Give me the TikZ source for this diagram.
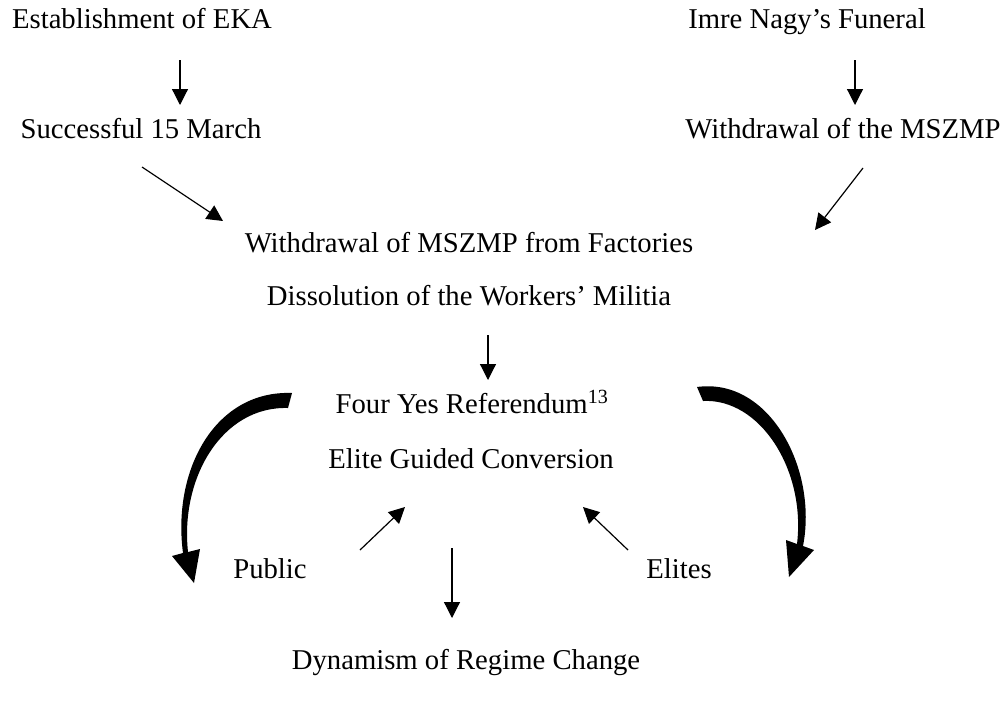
\documentclass[tikz,border=0pt]{standalone}
\usepackage{fontspec}
\setmainfont{Liberation Serif}
\usetikzlibrary{arrows.meta}
\begin{document}
\begin{tikzpicture}[x=1pt,y=-1pt,
  lbl/.style={inner sep=0pt, anchor=base, font=\fontsize{28.7}{34}\selectfont},
  thin/.style={line width=1.2pt, -{Triangle[length=16pt,width=16pt]}},
  bigarrow/.style={fill=black, draw=none}]
\useasboundingbox (0,0) rectangle (1002,702);
% texts
\node[lbl] (eka) at (142,28) {Establishment of EKA};
\node[lbl] (nagy) at (807,28) {Imre Nagy’s Funeral};
\node[lbl] (march) at (141,138) {Successful 15 March};
\node[lbl] (withd) at (843,138) {Withdrawal of the MSZMP};
\node[lbl] (fact) at (469,252) {Withdrawal of MSZMP from Factories};
\node[lbl] (diss) at (469,305) {Dissolution of the Workers’ Militia};
\node[lbl] (four) at (472,413) {Four Yes Referendum\textsuperscript{13}};
\node[lbl] (elite) at (471,468) {Elite Guided Conversion};
\node[lbl] (public) at (270,578) {Public};
\node[lbl] (elites) at (679,578) {Elites};
\node[lbl] (dyn) at (466,669) {Dynamism of Regime Change};
% connector end points
\coordinate (a1s) at (180,60);  \coordinate (a1e) at (180,105);
\coordinate (a2s) at (855,60);  \coordinate (a2e) at (855,105);
\coordinate (a3s) at (142,167); \coordinate (a3e) at (223,221);
\coordinate (a4s) at (863,168); \coordinate (a4e) at (815,230);
\coordinate (a5s) at (488,335); \coordinate (a5e) at (488,380);
\coordinate (a6s) at (360,550); \coordinate (a6e) at (405,507);
\coordinate (a7s) at (628,550); \coordinate (a7e) at (583,507);
\coordinate (a8s) at (452,548); \coordinate (a8e) at (452,618);
\draw[thin] (a1s) -- (a1e);
\draw[thin] (a2s) -- (a2e);
\draw[thin] (a3s) -- (a3e);
\draw[thin] (a4s) -- (a4e);
\draw[thin] (a5s) -- (a5e);
\draw[thin] (a6s) -- (a6e);
\draw[thin] (a7s) -- (a7e);
\draw[thin] (a8s) -- (a8e);
% thick curved arrows (tapered)
\fill[bigarrow] (292,393) .. controls (215,390) and (172,470) .. (183,553)
  -- (172,556) -- (194,583) -- (200,549) -- (188,552)
  .. controls (180,478) and (222,406) .. (288,408) -- cycle;
\fill[bigarrow] (697,387) .. controls (770,377) and (818,470) .. (803,546)
  -- (814,550) -- (789,577) -- (786,540) -- (797,544)
  .. controls (806,470) and (760,398) .. (703,401) -- cycle;
\end{tikzpicture}
\end{document}
